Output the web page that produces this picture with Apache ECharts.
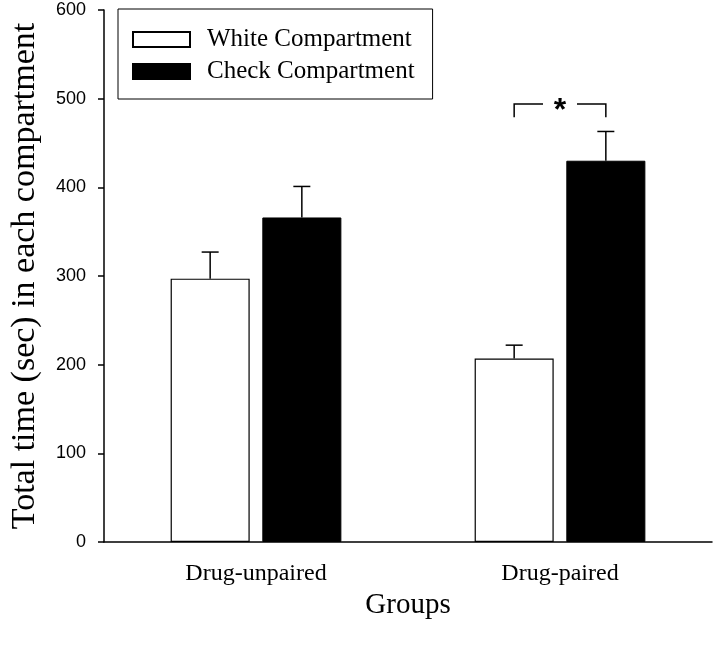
<!DOCTYPE html>
<html>
<head>
<meta charset="utf-8">
<script src="https://cdn.jsdelivr.net/npm/echarts@6/dist/echarts.min.js"></script>
<style>html,body{margin:0;padding:0;background:#fff}#c{width:720px;height:652px}</style>
</head>
<body>
<div id="c"></div>
<script>
const categories = ['Drug-unpaired', 'Drug-paired'];
const seriesNames = ['White Compartment', 'Check Compartment'];
const whiteValues = [297, 207];
const checkValues = [366, 430];
const whiteErr = [30, 15];
const checkErr = [35, 33];
const yTicks = [0, 100, 200, 300, 400, 500, 600];
const sigBracket = { category: 1, value: 494, drop: 15, label: '*' };

const BAR_W = 0.26;   // fraction of band
const GAP = 0.16;     // barGap fraction of bar width
const serif = '"Liberation Serif", "Times New Roman", serif';
const sans = '"Liberation Sans", Arial, sans-serif';

function barOffset(api, which) {
  const band = api.size([1, 0])[0];
  const w = band * BAR_W;
  const half = w / 2 + (w * GAP) / 2;
  return which === 0 ? -half : half;
}

function errRender(which) {
  return function (params, api) {
    const ci = api.value(0), v = api.value(1), e = api.value(2);
    const p0 = api.coord([ci, v]);
    const p1 = api.coord([ci, v + e]);
    const x = p0[0] + barOffset(api, which);
    const cap = 8.5;
    return {
      type: 'group',
      children: [
        { type: 'line', shape: { x1: x, y1: p0[1], x2: x, y2: p1[1] }, style: { stroke: '#000', lineWidth: 1.5 } },
        { type: 'line', shape: { x1: x - cap, y1: p1[1], x2: x + cap, y2: p1[1] }, style: { stroke: '#000', lineWidth: 1.5 } }
      ]
    };
  };
}

const chart = echarts.init(document.getElementById('c'));
chart.setOption({
  animation: false,
  backgroundColor: '#fff',
  grid: { left: 101, right: 8, top: 10, bottom: 110 },
  legend: {
    left: 118, top: 9,
    orient: 'vertical',
    data: seriesNames,
    icon: 'rect',
    itemWidth: 57, itemHeight: 15, itemGap: 7,
    borderColor: '#000', borderWidth: 1,
    padding: [18, 18, 15, 14],
    textStyle: { fontFamily: serif, fontSize: 25, color: '#000', padding: [0, 0, 0, 12] }
  },
  xAxis: {
    type: 'category',
    data: categories,
    name: 'Groups',
    nameLocation: 'middle',
    nameGap: 46,
    nameTextStyle: { fontFamily: serif, fontSize: 29, color: '#000' },
    axisLine: { lineStyle: { color: '#000', width: 1.5 } },
    axisTick: { alignWithLabel: true, length: 7, lineStyle: { color: '#000', width: 1.5 } },
    axisLabel: { fontFamily: serif, fontSize: 24, color: '#000', margin: 20 }
  },
  yAxis: {
    type: 'value',
    min: yTicks[0], max: yTicks[yTicks.length - 1], interval: 100,
    name: 'Total time (sec) in each compartment',
    nameLocation: 'middle',
    nameGap: 62,
    nameTextStyle: { fontFamily: serif, fontSize: 34, color: '#000' },
    axisLine: { show: true, lineStyle: { color: '#000', width: 1.5 } },
    axisTick: { show: true, length: 6, lineStyle: { color: '#000', width: 1.5 } },
    splitLine: { show: false },
    axisLabel: { fontFamily: sans, fontSize: 18, color: '#000', margin: 18 }
  },
  series: [
    {
      name: seriesNames[0], type: 'bar', data: whiteValues,
      barWidth: (BAR_W * 100) + '%', barGap: (GAP * 100) + '%',
      itemStyle: { color: '#fff', borderColor: '#000', borderWidth: 1.2 }
    },
    {
      name: seriesNames[1], type: 'bar', data: checkValues,
      barWidth: (BAR_W * 100) + '%', barGap: (GAP * 100) + '%',
      itemStyle: { color: '#000', borderColor: '#000', borderWidth: 1 }
    },
    {
      type: 'custom', z: 5, silent: true,
      data: categories.map((c, i) => [i, whiteValues[i], whiteErr[i]]),
      renderItem: errRender(0)
    },
    {
      type: 'custom', z: 5, silent: true,
      data: categories.map((c, i) => [i, checkValues[i], checkErr[i]]),
      renderItem: errRender(1)
    },
    {
      type: 'custom', z: 5, silent: true,
      data: [[sigBracket.category, sigBracket.value, sigBracket.drop]],
      renderItem: function (params, api) {
        const ci = api.value(0), v = api.value(1), d = api.value(2);
        const p = api.coord([ci, v]);
        const pd = api.coord([ci, v - d]);
        const xl = p[0] + barOffset(api, 0);
        const xr = p[0] + barOffset(api, 1);
        const xm = (xl + xr) / 2;
        const gap = 17;
        const st = { stroke: '#000', lineWidth: 1.5, fill: null };
        return {
          type: 'group',
          children: [
            { type: 'polyline', shape: { points: [[xl, pd[1]], [xl, p[1]], [xm - gap, p[1]]] }, style: st },
            { type: 'polyline', shape: { points: [[xm + gap, p[1]], [xr, p[1]], [xr, pd[1]]] }, style: st },
            { type: 'text', x: xm, y: p[1] + 7, style: { text: sigBracket.label, fontFamily: sans, fontWeight: 'bold', fontSize: 32, fill: '#000', align: 'center', verticalAlign: 'middle' } }
          ]
        };
      }
    }
  ]
});
</script>
</body>
</html>
